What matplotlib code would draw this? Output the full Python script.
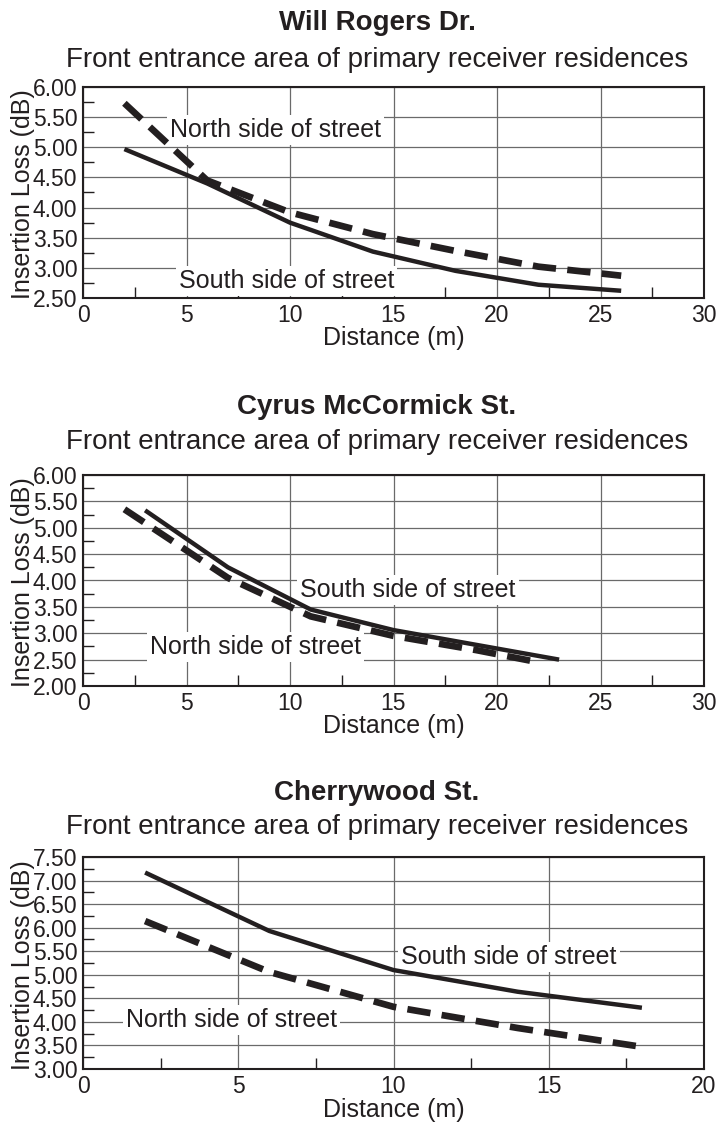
import matplotlib
matplotlib.use("Agg")
import matplotlib.pyplot as plt
from matplotlib.ticker import MultipleLocator, FormatStrFormatter

plt.rcParams['font.family'] = ['Liberation Sans', 'DejaVu Sans']

INK = '#231f20'

# Will Rogers Dr.
wr_north_x = [2, 6, 10, 14, 18, 22, 26]
wr_north_y = [5.73, 4.45, 3.92, 3.56, 3.28, 3.02, 2.87]
wr_south_x = [2, 6, 10, 14, 18, 22, 26]
wr_south_y = [4.97, 4.40, 3.75, 3.27, 2.95, 2.72, 2.62]

# Cyrus McCormick St.
cm_north_x = [2, 7, 11, 15, 19, 22]
cm_north_y = [5.35, 4.05, 3.32, 2.95, 2.68, 2.45]
cm_south_x = [3, 7, 11, 15, 19, 23]
cm_south_y = [5.33, 4.25, 3.45, 3.06, 2.78, 2.50]

# Cherrywood St.
cw_north_x = [2, 6, 10, 14, 18]
cw_north_y = [6.14, 5.06, 4.32, 3.87, 3.47]
cw_south_x = [2, 6, 10, 14, 18]
cw_south_y = [7.17, 5.93, 5.10, 4.64, 4.30]

titles = ['Will Rogers Dr.', 'Cyrus McCormick St.', 'Cherrywood St.']
subtitle = 'Front entrance area of primary receiver residences'

panels = [
    dict(north=(wr_north_x, wr_north_y), south=(wr_south_x, wr_south_y),
         xlim=(0, 30), ylim=(2.5, 6.0),
         north_lbl=(4.2, 5.29), south_lbl=(4.64, 2.78)),
    dict(north=(cm_north_x, cm_north_y), south=(cm_south_x, cm_south_y),
         xlim=(0, 30), ylim=(2.0, 6.0),
         north_lbl=(3.25, 2.74), south_lbl=(10.5, 3.82)),
    dict(north=(cw_north_x, cw_north_y), south=(cw_south_x, cw_south_y),
         xlim=(0, 20), ylim=(3.0, 7.5),
         north_lbl=(1.38, 4.04), south_lbl=(10.25, 5.38)),
]

W, H = 718, 1131
fig = plt.figure(figsize=(W / 100, H / 100), dpi=100)

# axes frames in pixels: (top, bottom), plus title / subtitle centre rows
frames = [(87, 298), (475, 686), (857, 1069)]
title_rows = [(23, 60), (407, 442), (793, 827)]
left, right = 83, 704

box = dict(boxstyle='square,pad=0.12', facecolor='white', edgecolor='none')

for p, (top, bot), (ty, sy), title in zip(panels, frames, title_rows, titles):
    ax = fig.add_axes([left / W, 1 - bot / H, (right - left) / W, (bot - top) / H])

    ax.plot(*p['south'], color=INK, lw=3.2, solid_capstyle='butt', zorder=4)
    ax.plot(*p['north'], color=INK, lw=4.8, dashes=(3.5, 1.7),
            dash_capstyle='butt', zorder=4)

    ax.text(*p['north_lbl'], 'North side of street', fontsize=18, color=INK,
            va='center', ha='left', bbox=box, zorder=3)
    ax.text(*p['south_lbl'], 'South side of street', fontsize=18, color=INK,
            va='center', ha='left', bbox=box, zorder=3)

    ax.set_xlim(*p['xlim'])
    ax.set_ylim(*p['ylim'])
    ax.xaxis.set_major_locator(MultipleLocator(5))
    ax.xaxis.set_minor_locator(MultipleLocator(2.5))
    ax.yaxis.set_major_locator(MultipleLocator(0.5))
    ax.yaxis.set_minor_locator(MultipleLocator(0.25))
    ax.yaxis.set_major_formatter(FormatStrFormatter('%.2f'))

    ax.grid(True, which='major', color='#6a6a6a', lw=0.9, zorder=1)
    ax.tick_params(which='major', length=0, labelsize=16.5, colors=INK, pad=4)
    ax.tick_params(which='minor', direction='in', length=8, width=1,
                   color=INK, top=False, right=False)
    for s in ax.spines.values():
        s.set_linewidth(1.5)
        s.set_color(INK)

    ax.set_xlabel('Distance (m)', fontsize=18, color=INK)
    ax.set_ylabel('Insertion Loss (dB)', fontsize=18, color=INK)
    ax.xaxis.set_label_coords(0.5, -0.135)
    ax.yaxis.set_label_coords(-0.078, 0.49)

    cx = 377 / W
    fig.text(cx, 1 - ty / H, title, fontsize=20, fontweight='bold',
             color=INK, ha='center', va='center')
    fig.text(cx, 1 - sy / H, subtitle, fontsize=20, color=INK,
             ha='center', va='center')

fig.savefig('out.png', dpi=100)
